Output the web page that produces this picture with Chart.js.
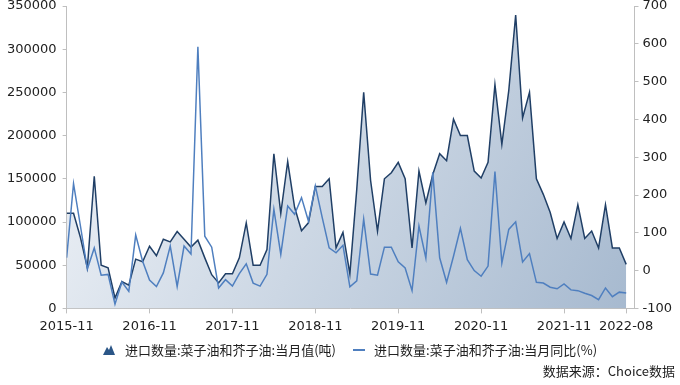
<!DOCTYPE html>
<html>
<head>
<meta charset="utf-8">
<script src="https://cdn.jsdelivr.net/npm/chart.js@4/dist/chart.umd.min.js"></script>
<style>
  html, body { margin: 0; padding: 0; background: #fff; }
  #wrap { position: relative; width: 680px; height: 385px; }
  #legend {
    position: absolute; left: 103px; top: 340px;
    display: flex; align-items: center;
    font: 13px "Noto Sans CJK SC", sans-serif; color: #222;
    white-space: nowrap;
  }
  #legend .item { display: flex; align-items: center; margin-right: 17px; }
  #legend canvas { margin-right: 10px; }
  #legend .line { width: 12px; height: 2px; margin-right: 9px; }
  #source {
    position: absolute; right: 5px; top: 361px;
    font: 13px "Noto Sans CJK SC", sans-serif; color: #222;
  }
</style>
</head>
<body>
<div id="wrap">
  <canvas id="importChart" width="680" height="385"></canvas>
  <div id="legend"></div>
  <div id="source">数据来源：Choice数据</div>
</div>
<script>
// months 2015-11 .. 2022-08
const months = [];
for (let y = 2015, m = 11; y < 2022 || (y === 2022 && m <= 8); m++) {
  if (m > 12) { m = 1; y++; }
  months.push(y + "-" + String(m).padStart(2, "0"));
}

// x tick positions (index into months)
const xTickIndex = [0, 12, 24, 36, 48, 60, 72, 81];

// 进口数量:当月值 (吨)
const volume = [
  110000, 110000, 82000, 47000, 153000, 50000, 47000, 12000, 31000, 27000,
  57000, 54000, 72000, 61000, 80000, 77000, 89000, 80000, 71000, 79000,
  58500, 39000, 29500, 40000, 40000, 58500, 99000, 50000, 50000, 68000,
  179000, 110000, 170000, 117000, 90000, 99000, 141000, 141000, 150000, 70000,
  88000, 40000, 138000, 250000, 148000, 89500, 150000, 157000, 169000, 150000,
  70000, 159000, 122000, 155000, 179000, 171000, 219000, 200000, 200000, 159000,
  151000, 169000, 259000, 190000, 252000, 339500, 220500, 250000, 150000, 132000,
  111000, 81000, 100000, 81000, 120000, 81000, 89500, 70000, 120000, 70000,
  70000, 51000
];

// 进口数量:当月同比 (%)
const yoy = [
  34, 230, 118, 4, 60, -12, -10, -89, -30, -55,
  94, 25, -25, -42, -6, 65, -42, 65, 44, 592,
  91, 62, -46, -24, -41, -8, 18, -33, -41, -10,
  162, 43, 171, 149, 193, 131, 224, 140, 60, 47,
  67, -43, -27, 136, -9, -12, 62, 62, 23, 7,
  -53, 118, 33, 260, 34, -31, 38, 112, 29, 0,
  -15, 12, 262, 20, 109, 129, 23, 45, -31, -33,
  -44, -48, -35, -51, -53, -60, -66, -77, -46, -69,
  -57, -59
];

const seriesNames = [
  "进口数量:菜子油和芥子油:当月值(吨)",
  "进口数量:菜子油和芥子油:当月同比(%)",
];

const areaColor = "#203f66";
const lineColor = "#4f7fbf";
const axisGrey = "#bfbfbf";
const tickFont = { family: "DejaVu Sans", size: 13 };

// labels may hang over the plot edges like in the original
const noOverhang = (axis) => {
  axis.paddingTop = 0;
  axis.paddingBottom = 0;
  axis.paddingLeft = 0;
  axis.paddingRight = 0;
};

const CTX = document.getElementById("importChart").getContext("2d");

const chart = new Chart(CTX, {
  type: "line",
  data: {
    datasets: [
      {
        label: seriesNames[0],
        data: volume.map((v, i) => ({ x: i, y: v })),
        yAxisID: "y",
        borderColor: areaColor,
        borderWidth: 1.5,
        pointRadius: 0,
        fill: "origin",
        backgroundColor: (ctx) => {
          const a = ctx.chart.chartArea;
          if (!a) return "rgba(180,198,220,0.7)";
          const g = ctx.chart.ctx.createLinearGradient(a.left, a.top, a.right, a.bottom);
          g.addColorStop(0, "#f2f5f9");
          g.addColorStop(1, "#a6b9cf");
          return g;
        },
        tension: 0,
        order: 2,
      },
      {
        label: seriesNames[1],
        data: yoy.map((v, i) => ({ x: i, y: v })),
        yAxisID: "y1",
        borderColor: lineColor,
        borderWidth: 1.5,
        pointRadius: 0,
        fill: false,
        tension: 0,
        order: 1,
      },
    ],
  },
  options: {
    responsive: false,
    animation: false,
    layout: { padding: { left: 1, right: 4, top: 6, bottom: 46 } },
    scales: {
      x: {
        type: "linear",
        min: 0,
        max: 82.2,
        afterBuildTicks: (axis) => {
          axis.ticks = xTickIndex.map((v) => ({ value: v }));
        },
        afterFit: noOverhang,
        ticks: {
          autoSkip: false,
          maxRotation: 0,
          padding: 5,
          color: "#222",
          font: tickFont,
          callback: (v) => months[v],
        },
        grid: { drawOnChartArea: false, tickLength: 5, color: axisGrey },
        border: { color: axisGrey },
      },
      y: {
        position: "left",
        min: 0,
        max: 350000,
        afterFit: noOverhang,
        ticks: {
          stepSize: 50000,
          padding: 6,
          color: "#222",
          font: tickFont,
          callback: (v) => String(v),
        },
        grid: { drawOnChartArea: false, tickLength: 4, color: axisGrey },
        border: { color: axisGrey },
      },
      y1: {
        position: "right",
        min: -100,
        max: 700,
        afterFit: noOverhang,
        ticks: {
          stepSize: 100,
          padding: 4,
          color: "#222",
          font: tickFont,
          callback: (v) => String(v),
        },
        grid: { drawOnChartArea: false, tickLength: 4, color: axisGrey },
        border: { color: axisGrey },
      },
    },
    plugins: {
      legend: { display: false },
      tooltip: { enabled: false },
    },
  },
});

// legend under the chart, built from the dataset labels
const legendEl = document.getElementById("legend");
chart.data.datasets.forEach((ds, i) => {
  const item = document.createElement("span");
  item.className = "item";
  if (i === 0) {
    // little "mountain" icon for the area series
    const icon = document.createElement("canvas");
    icon.width = 12;
    icon.height = 10;
    const c = icon.getContext("2d");
    c.fillStyle = "#2b5687";
    c.beginPath();
    c.moveTo(0, 10);
    c.lineTo(4, 2);
    c.lineTo(6, 5);
    c.lineTo(8, 0);
    c.lineTo(12, 10);
    c.closePath();
    c.fill();
    item.appendChild(icon);
  } else {
    const bar = document.createElement("span");
    bar.className = "line";
    bar.style.background = ds.borderColor;
    item.appendChild(bar);
  }
  const txt = document.createElement("span");
  txt.textContent = ds.label;
  item.appendChild(txt);
  legendEl.appendChild(item);
});
</script>
</body>
</html>
